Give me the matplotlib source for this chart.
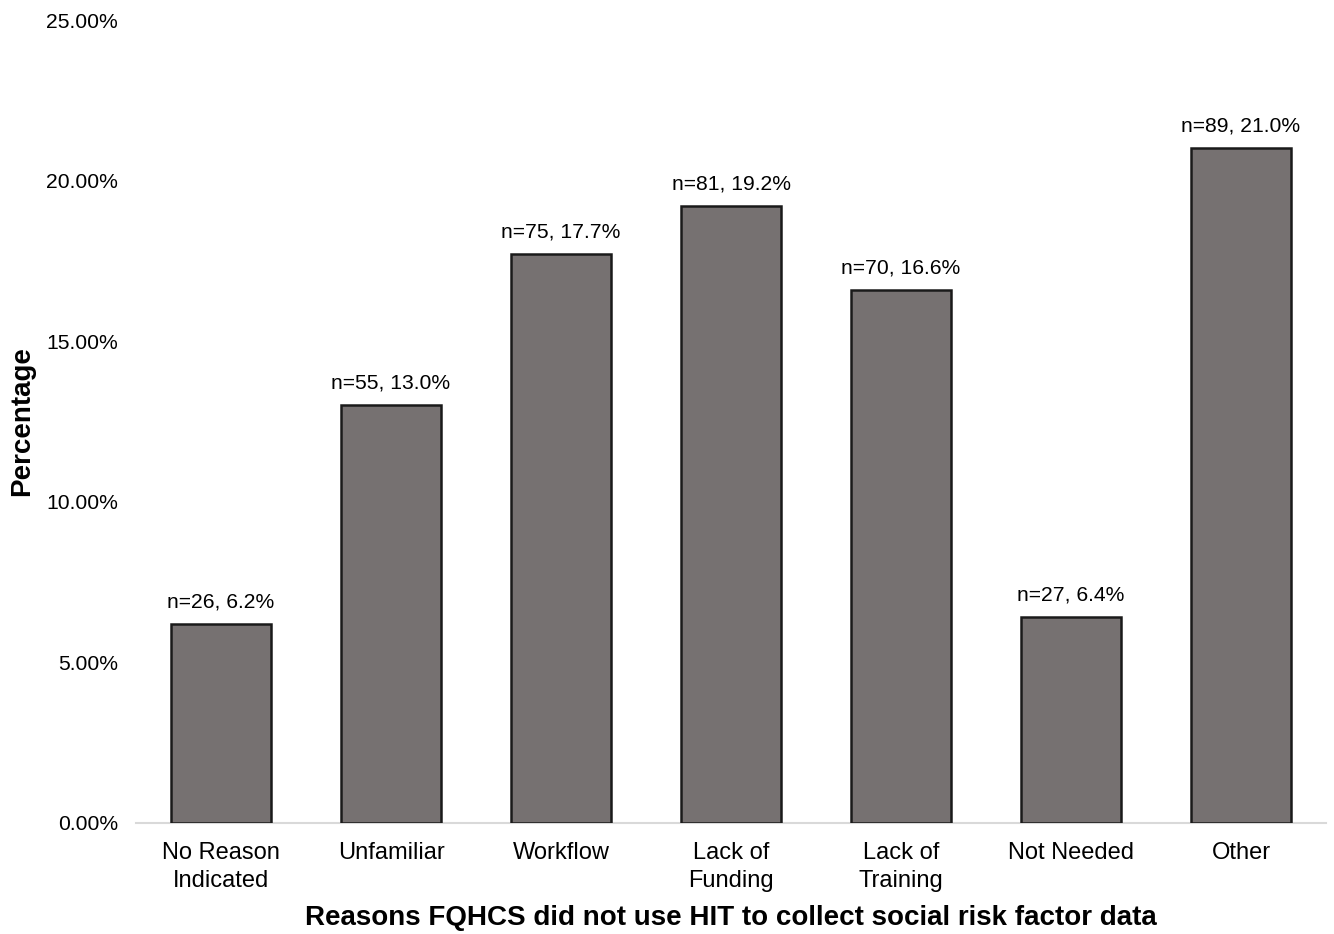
import matplotlib
matplotlib.use("Agg")
import matplotlib.pyplot as plt
from matplotlib.ticker import FuncFormatter

plt.rcParams['font.family'] = ['Liberation Sans', 'DejaVu Sans']

categories = ["No Reason\nIndicated", "Unfamiliar", "Workflow", "Lack of\nFunding",
              "Lack of\nTraining", "Not Needed", "Other"]
counts = [26, 55, 75, 81, 70, 27, 89]
percentages = [6.2, 13.0, 17.7, 19.2, 16.6, 6.4, 21.0]
y_ticks = [0, 5, 10, 15, 20, 25]

fig = plt.figure(figsize=(13.34, 9.34), dpi=100)
ax = fig.add_axes([136 / 1334, 1 - 823 / 934, (1326 - 136) / 1334, (823 - 20) / 934])

x = list(range(len(categories)))
ax.bar(x, percentages, width=0.59, color="#767171", edgecolor="#1a1a1a",
       linewidth=1.8, zorder=3)

for xi, n, p in zip(x, counts, percentages):
    ax.annotate(f"n={n}, {p:.1f}%", xy=(xi, p), xytext=(0, 9),
                textcoords="offset points", ha="center", va="bottom", fontsize=15.2)

ax.set_xlim(-0.5, len(categories) - 0.5)
ax.set_ylim(0, 25)
ax.set_yticks(y_ticks)
ax.yaxis.set_major_formatter(FuncFormatter(lambda v, _: f"{v:.2f}%"))
ax.set_xticks(x)
ax.set_xticklabels(categories, fontsize=17, linespacing=1.3)
ax.tick_params(axis="y", length=0, labelsize=15.2, pad=13)
ax.tick_params(axis="x", length=0, pad=14)

for side in ("top", "right", "left"):
    ax.spines[side].set_visible(False)
ax.spines["bottom"].set_color("#d9d9d9")
ax.spines["bottom"].set_linewidth(1.5)

ax.set_ylabel("Percentage", fontsize=20, fontweight="bold", labelpad=8)
ax.set_xlabel("Reasons FQHCS did not use HIT to collect social risk factor data",
              fontsize=20, fontweight="bold", labelpad=10)

fig.savefig("out.png", dpi=100)
